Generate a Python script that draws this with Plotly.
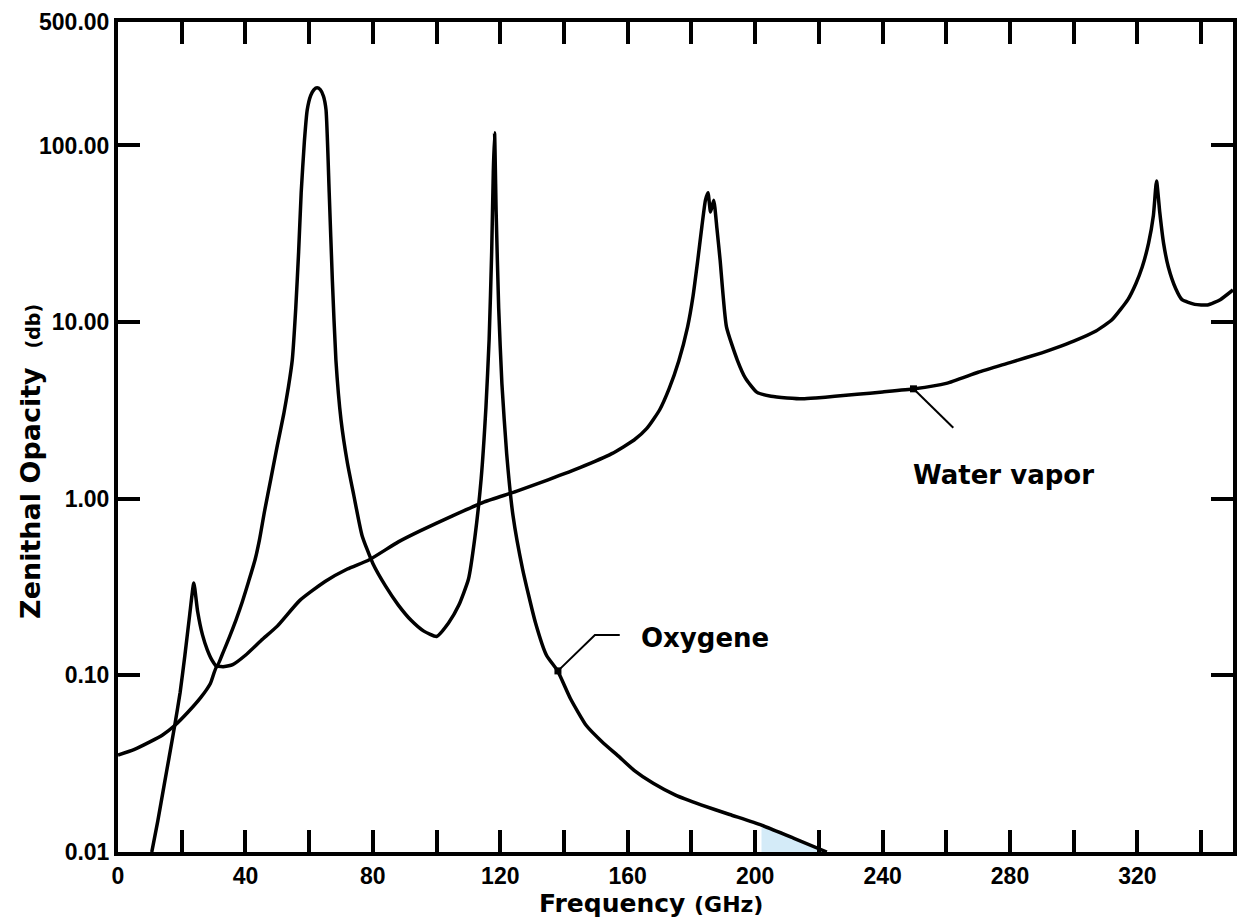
import numpy as np
import plotly.graph_objects as go

# ---------------- data ----------------
oxygen_ghz = [10.6, 12.5, 14.5, 16, 17.8, 19.5, 21, 22.5, 23.8, 25, 26.5, 28, 29.5, 31, 33, 35,
              37, 39, 41, 43, 44.4, 46, 48, 50, 52, 53.5, 54.7, 55.8, 56.7, 57.5, 58.5, 59.4,
              60.5, 61.5, 62.5, 63.5, 64.5, 65.3, 66.3, 67.3, 68.4, 70, 72, 74, 76.6, 80, 84,
              88, 92, 96, 100, 103.75, 107, 110, 112, 114, 115.5, 116.5, 117.3, 117.8, 118.2,
              118.7, 119.5, 120.5, 122, 124, 127, 131, 134.5, 138, 142, 147, 152, 157, 162,
              168, 175, 183, 192, 202, 212, 222.5]
oxygen_db = [0.010, 0.015, 0.024, 0.034, 0.052, 0.08, 0.13, 0.22, 0.333, 0.23, 0.17, 0.14,
             0.122, 0.112, 0.135, 0.165, 0.205, 0.26, 0.34, 0.45, 0.585, 0.85, 1.3, 2.0, 3.0,
             4.3, 6.1, 12, 25, 54, 105, 159, 192, 207, 212, 207, 190, 159, 54, 17, 6.1, 2.8,
             1.6, 1.05, 0.62, 0.43, 0.32, 0.25, 0.205, 0.178, 0.166, 0.198, 0.25, 0.35, 0.6,
             1.3, 3.3, 8, 25, 70, 118, 42, 12, 4.5, 1.8, 0.8, 0.4, 0.2, 0.13, 0.106, 0.074,
             0.052, 0.042, 0.035, 0.029, 0.0245, 0.021, 0.0185, 0.0163, 0.0142, 0.012, 0.010]

water_ghz = [0, 5, 10, 14, 17.8, 22, 26, 29, 31, 33, 36, 40, 45, 50, 57, 65, 72, 78.75, 88,
             95, 105, 115, 125, 135, 145, 155, 162, 166, 170, 173, 176, 178.8, 180.5, 182,
             183.3, 184.4, 185.2, 186, 187, 188, 189, 191, 194.4, 197, 200.6, 205, 210, 215,
             219, 225, 232, 240, 250, 260, 270, 280, 290, 294, 300, 307, 312, 317, 319.5,
             321.5, 323.5, 325, 326, 327, 328.2, 329.7, 332, 334, 338, 342, 346, 350]
water_db = [0.0354, 0.038, 0.042, 0.046, 0.052, 0.062, 0.075, 0.09, 0.112, 0.112, 0.115, 0.13,
            0.158, 0.19, 0.265, 0.34, 0.40, 0.45, 0.57, 0.66, 0.80, 0.96, 1.1, 1.28, 1.5, 1.8,
            2.15, 2.5, 3.18, 4.2, 6.0, 9.4, 14, 22.5, 35, 49, 54, 42, 49, 34, 22.5, 9.4, 6.1,
            4.8, 4.0, 3.8, 3.72, 3.68, 3.72, 3.8, 3.9, 4.02, 4.19, 4.5, 5.2, 5.9, 6.7, 7.1,
            7.8, 8.9, 10.3, 13.4, 16.5, 20.5, 28, 40, 63, 42, 28, 20.5, 15.5, 13.4, 12.6,
            12.5, 13.4, 15.2]

x_tick_values = list(range(0, 341, 20))
x_tick_labels = [str(v) if v % 40 == 0 else "" for v in x_tick_values]
y_tick_values = [0.01, 0.1, 1, 10, 100, 500]
y_tick_labels = ["0.01", "0.10", "1.00", "10.00", "100.00", "500.00"]

# callout labels: text, text anchor (GHz, dB), leader path (GHz, dB)
label_texts = ["Oxygene", "Water vapor"]
label_x = [163.5, 249.0]
label_y = [0.163, 1.36]
oxy_leader_x = [138.1, 149.7, 157.5]
oxy_leader_y = [0.106, 0.169, 0.169]
wat_leader_x = [249.7, 262.2]
wat_leader_y = [4.19, 2.52]

shade_from_ghz = 200  # light-blue patch under the oxygen tail

# ---------------- figure ----------------
fig = go.Figure()

ox = np.array(oxygen_ghz)
oy = np.array(oxygen_db)
m = ox >= shade_from_ghz
fig.add_trace(go.Scatter(x=ox[m], y=np.full(m.sum(), 0.01), mode="lines",
                         line=dict(width=0, color="rgba(0,0,0,0)"), showlegend=False,
                         hoverinfo="skip"))
fig.add_trace(go.Scatter(x=ox[m], y=oy[m], mode="lines", fill="tonexty",
                         fillcolor="#d4ebf8", line=dict(width=0, color="rgba(0,0,0,0)"),
                         showlegend=False, hoverinfo="skip"))

curve_line = dict(color="black", width=3.5, shape="spline", smoothing=0.5)
fig.add_trace(go.Scatter(x=water_ghz, y=water_db, mode="lines", name="Water vapor",
                         line=curve_line, showlegend=False))
fig.add_trace(go.Scatter(x=oxygen_ghz, y=oxygen_db, mode="lines", name="Oxygene",
                         line=curve_line, showlegend=False))

for lx, ly in [(oxy_leader_x, oxy_leader_y), (wat_leader_x, wat_leader_y)]:
    fig.add_trace(go.Scatter(x=lx, y=ly, mode="lines", line=dict(color="black", width=2),
                             showlegend=False, hoverinfo="skip"))
    fig.add_trace(go.Scatter(x=[lx[0]], y=[ly[0]], mode="markers",
                             marker=dict(symbol="square", size=7, color="black"),
                             showlegend=False, hoverinfo="skip"))

for t, x, y in zip(label_texts, label_x, label_y):
    fig.add_annotation(x=x, y=np.log10(y), xref="x", yref="y", text=t, showarrow=False,
                       xanchor="left", yanchor="middle",
                       font=dict(family="DejaVu Sans", size=26, color="black", weight="bold"))

# axis titles
fig.add_annotation(x=0.478, y=-0.062, xref="paper", yref="paper",
                   text="Frequency <span style='font-size:22px'>(GHz)</span>", showarrow=False,
                   xanchor="center", yanchor="middle",
                   font=dict(family="DejaVu Sans", size=25, color="black", weight="bold"))
fig.add_annotation(x=-0.078, y=0.47, xref="paper", yref="paper",
                   text="Zenithal Opacity  <span style='font-size:19px'>(db)</span>",
                   showarrow=False, textangle=-90, xanchor="center", yanchor="middle",
                   font=dict(family="DejaVu Sans", size=27, color="black", weight="bold"))

axis_common = dict(showline=True, linecolor="black", linewidth=4, mirror="ticks",
                   ticks="inside", ticklen=22, tickwidth=3.5, tickcolor="black",
                   showgrid=False, zeroline=False,
                   tickfont=dict(family="Liberation Sans", size=23, color="black",
                                 weight="bold"))

fig.update_layout(
    width=1237, height=917,
    margin=dict(l=118, r=0, t=22, b=65),
    paper_bgcolor="white", plot_bgcolor="white",
    xaxis=dict(range=[0, 350], tickmode="array", tickvals=x_tick_values,
               ticktext=x_tick_labels, **axis_common),
    yaxis=dict(type="log", range=[-2, np.log10(500)], tickmode="array",
               tickvals=y_tick_values, ticktext=y_tick_labels, **axis_common),
)

fig.write_html("out.html")
